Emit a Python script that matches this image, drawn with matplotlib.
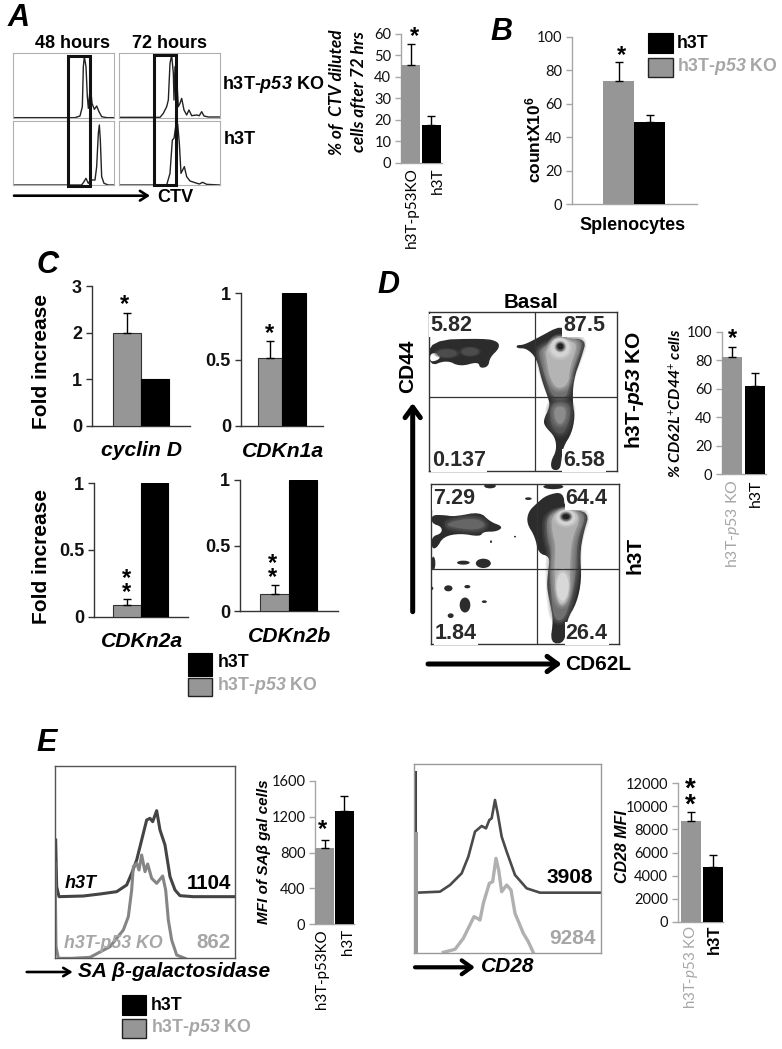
import matplotlib
matplotlib.use('Agg')
import matplotlib.pyplot as plt
from matplotlib.patches import Polygon, Ellipse, Rectangle

plt.rcParams['font.family'] = ['Liberation Sans', 'DejaVu Sans']
plt.rcParams['mathtext.fontset'] = 'custom'
plt.rcParams['mathtext.bf'] = 'Liberation Sans:bold'
plt.rcParams['mathtext.bfit'] = 'Liberation Sans:italic:bold'
plt.rcParams['mathtext.it'] = 'Lato:italic'
plt.rcParams['mathtext.rm'] = 'Lato'

GRAY = '#969696'
LGRAY = '#a6a6a6'

# ---------- bar data ----------
a_vals, a_err = [45.5, 17.5], [55.5, 22]
b_vals, b_err = [73.5, 49], [85, 53]
c1_vals, c1_err = [2.0, 1.0], [2.42, 1.0]
c2_vals, c2_err = [0.51, 1.0], [0.64, 1.0]
c3_vals, c3_err = [0.085, 1.0], [0.13, 1.0]
c4_vals, c4_err = [0.13, 1.0], [0.20, 1.0]
d_vals, d_err = [82, 62], [89.5, 71]
e1_vals, e1_err = [850, 1265], [935, 1430]
e2_vals, e2_err = [8700, 4700], [9550, 5750]

# ---------- CTV histograms (channel, count) ----------
ctv48_ko = [(38,353),(225,353),(240,348),(247,320),(250,200),(253,170),(258,200),(262,290),(265,325),(270,270),(272,265),(276,310),(283,328),(290,318),(297,335),(305,350),(320,353),(342,353)]
ctv72_ko = [(356,352),(480,352),(490,340),(500,320),(505,300),(510,190),(515,165),(520,220),(522,300),(525,200),(530,230),(535,320),(540,310),(545,295),(552,330),(560,345),(567,330),(575,347),(590,345),(598,347),(605,335),(612,348),(625,351),(660,351)]
ctv48_wt = [(38,555),(245,555),(252,545),(258,535),(265,550),(272,540),(285,540),(290,500),(295,400),(298,375),(301,420),(305,530),(312,550),(325,555),(342,555)]
ctv72_wt = [(356,555),(500,555),(510,520),(517,420),(522,415),(527,380),(533,372),(538,430),(543,520),(553,500),(560,530),(570,543),(585,548),(598,552),(608,547),(620,553),(660,555)]

# ---------- SA beta-gal and CD28 histograms ----------
sa_wt = [(167,360),(170,500),(177,530),(250,528),(300,522),(350,515),(380,495),(395,460),(410,420),(425,360),(440,300),(450,295),(458,305),(470,272),(480,330),(495,375),(510,470),(525,510),(540,527),(580,530),(705,530)]
sa_ko = [(165,430),(168,680),(175,715),(215,715),(270,712),(330,680),(370,630),(385,590),(395,510),(400,440),(410,430),(417,450),(425,405),(435,455),(443,432),(455,475),(470,490),(488,468),(497,510),(505,600),(515,660),(530,705),(555,715)]
cd28_wt = [(50,518),(120,515),(150,495),(185,460),(205,410),(225,335),(245,318),(258,325),(268,300),(275,295),(285,240),(293,280),(305,350),(320,395),(345,465),(380,505),(420,518),(602,518)]
cd28_ko = [(130,697),(165,688),(190,655),(222,590),(232,595),(240,600),(250,550),(268,490),(278,485),(288,415),(296,450),(305,515),(320,495),(333,510),(345,580),(370,640),(385,665),(400,698)]

# ---------- CD44/CD62L density contours ----------
ko_left = [(147,210),(315,205),(355,215),(358,235),(330,262),(325,290),(300,295),(295,275),(240,290),(200,270),(147,290)]
ko_hole = [(150,252),(170,248),(182,262),(170,272),(150,275)]
ko_main = [(410,225),(430,225),(465,208),(550,162),(550,207),(620,207),(605,260),(580,330),(578,400),(585,440),(575,490),(550,530),(545,565),(540,600),(515,600),(512,575),(530,540),(525,500),(495,470),(490,450),(510,410),(505,385),(485,330),(470,265),(440,235),(410,235)]
ko_mid = [(475,235),(550,208),(612,208),(592,265),(570,320),(562,385),(518,385),(495,320),(480,270)]
ko_light = [(495,235),(560,212),(595,220),(570,290),(565,345),(530,358),(508,320),(500,270)]
ko_lower = [(512,395),(572,395),(570,450),(552,490),(530,490),(510,460)]
ko_lower2 = [(522,410),(558,410),(555,450),(540,465),(525,450)]
wt_main = [(470,700),(500,675),(550,665),(555,720),(630,725),(610,790),(600,850),(605,930),(590,1000),(560,1050),(555,1120),(510,1120),(520,1050),(510,1000),(500,950),(505,900),(510,860),(475,850),(465,800),(440,760),(445,725)]
wt_left = [(155,735),(190,735),(225,740),(300,725),(330,755),(370,770),(350,785),(310,785),(300,800),(240,790),(190,800),(170,835),(155,835),(155,800),(185,790),(185,770),(155,760)]
wt_left2 = [(195,765),(230,750),(290,745),(320,765),(290,780),(235,775)]
wt_mid = [(500,735),(560,720),(622,728),(595,800),(590,850),(590,900),(570,1000),(550,1050),(525,1050),(515,1000),(510,900),(515,850),(500,800)]
wt_light = [(515,735),(560,722),(605,735),(575,810),(570,880),(570,950),(550,1010),(530,990),(522,900),(528,830),(515,780)]
wt_spots = [(330,648,35,14),(520,650,60,15),(445,686,20,8),(160,880,12,40),(250,878,38,12),(310,880,45,28),(205,955,25,18),(262,950,18,10),(255,1005,32,45),(313,995,15,8),(212,1037,18,14),(155,955,10,10),(405,800,6,5),(333,815,6,8)]

fig = plt.figure(figsize=(7.82, 10.49), dpi=100)
W, H = 782.0, 1049.0


def rect(x0, y0, x1, y1):
    return [x0 / W, 1 - y1 / H, (x1 - x0) / W, (y1 - y0) / H]


def bars(ax_l, ax_r, top, bot, ymax, ticks, c0, c1, bw, vals, errs, labels=None,
         spine='#a6a6a6', font='Lato', fs=10, weight='normal', edge=None):
    ax = fig.add_axes(rect(ax_l, top, ax_r, bot))
    step = c1 - c0
    ax.set_xlim((ax_l - c0) / step, (ax_r - c0) / step)
    ax.set_ylim(0, ymax)
    ax.patch.set_alpha(0)
    w = bw / step
    ax.bar([0, 1], vals, width=w, color=[GRAY, 'black'],
           edgecolor=[edge or GRAY, 'black'], linewidth=0.8 if edge else 0, zorder=3)
    for i in range(2):
        if errs[i] > vals[i]:
            ax.errorbar(i, vals[i], yerr=[[0], [errs[i] - vals[i]]], ecolor='black',
                        elinewidth=1.0, capsize=3, capthick=1.0, zorder=4)
    for s in ('top', 'right'):
        ax.spines[s].set_visible(False)
    for s in ('left', 'bottom'):
        ax.spines[s].set_color(spine)
        ax.spines[s].set_linewidth(1.0)
    ax.set_yticks(ticks)
    ax.set_yticklabels([str(t) for t in ticks], family=font, fontsize=fs, weight=weight,
                       color='#111111')
    ax.tick_params(axis='y', length=4, width=1, color=spine, pad=3)
    ax.set_xticks([])
    return ax


def curve_axes(x0, y0, x1, y1, ox, oy, spine='#9a9a9a', lw=1.0):
    ax = fig.add_axes(rect(x0, y0, x1, y1))
    ax.set_xlim((x0 - ox) * 3, (x1 - ox) * 3)
    ax.set_ylim((y1 - oy) * 3, (y0 - oy) * 3)
    ax.set_xticks([])
    ax.set_yticks([])
    for s in ax.spines.values():
        s.set_color(spine)
        s.set_linewidth(lw)
    return ax


def plot_curve(ax, pts, color, lw):
    ax.plot([p[0] for p in pts], [p[1] for p in pts], color=color, lw=lw,
            solid_joinstyle='round', clip_on=True)


def chaikin(pts, n=2):
    for _ in range(n):
        out = []
        for i, p in enumerate(pts):
            q = pts[(i + 1) % len(pts)]
            out.append((0.75 * p[0] + 0.25 * q[0], 0.75 * p[1] + 0.25 * q[1]))
            out.append((0.25 * p[0] + 0.75 * q[0], 0.25 * p[1] + 0.75 * q[1]))
        pts = out
    return pts


def soft(ax, poly, col, blur=True):
    pts = chaikin(poly)
    if blur:
        for lw, al in [(7, 0.18), (4.5, 0.25), (2.2, 0.35)]:
            ax.add_patch(Polygon(pts, closed=True, facecolor='none', edgecolor=col,
                                 lw=lw, alpha=al, joinstyle='round'))
    ax.add_patch(Polygon(pts, closed=True, facecolor=col, edgecolor='none'))


def soft_ellipse(ax, c, w, h, col):
    for f, al in [(1.35, 0.25), (1.18, 0.4)]:
        ax.add_patch(Ellipse(c, w * f, h * f, facecolor=col, edgecolor='none', alpha=al))
    ax.add_patch(Ellipse(c, w, h, facecolor=col, edgecolor='none'))


# ---------- Panel A flow ----------
for box, pts in [((12.7, 53.3, 114, 118), ctv48_ko), ((118.7, 53.3, 220, 118), ctv72_ko),
                 ((12.7, 121.3, 114, 185.3), ctv48_wt), ((118.7, 121.3, 220, 185.3), ctv72_wt)]:
    a = curve_axes(*box, 0, 0, spine='#b0b0b0', lw=0.8)
    plot_curve(a, pts, '#222222', 1.0)

# ---------- bar panels ----------
bars(401, 442, 34, 162.7, 60, [0, 10, 20, 30, 40, 50, 60], 410.5, 431, 19, a_vals, a_err, fs=10.5)
bars(571.7, 696.7, 36.7, 204, 100, [0, 20, 40, 60, 80, 100], 618.5, 649.5, 31, b_vals, b_err, fs=10.5)
c_ticks_h = [0, 0.5, 1]
bars(91.7, 190, 286, 426, 3, [0, 1, 2, 3], 127, 155, 28, c1_vals, c1_err, spine='#333333',
     font='Liberation Sans', fs=13, weight='bold', edge='#333333')
bars(240.7, 323, 293, 426, 1, c_ticks_h, 270, 294, 24, c2_vals, c2_err, spine='#333333',
     font='Liberation Sans', fs=13, weight='bold', edge='#333333')
bars(94, 188, 483, 616.7, 1, c_ticks_h, 127, 154.5, 27.5, c3_vals, c3_err, spine='#333333',
     font='Liberation Sans', fs=13, weight='bold', edge='#333333')
bars(240, 338, 480, 611, 1, c_ticks_h, 274.7, 303, 28.5, c4_vals, c4_err, spine='#333333',
     font='Liberation Sans', fs=13, weight='bold', edge='#333333')
bars(721.7, 766, 331.7, 474.3, 100, [0, 20, 40, 60, 80, 100], 732, 755, 20.5, d_vals, d_err, fs=10.5)
bars(315, 354, 780.7, 924.3, 1600, [0, 400, 800, 1200, 1600], 324.5, 344.3, 18.5, e1_vals, e1_err, fs=10.5)
bars(678, 723, 783.3, 921.7, 12000, [0, 2000, 4000, 6000, 8000, 10000, 12000], 690.7, 712.5, 20, e2_vals, e2_err, fs=10.5)

# ---------- Panel D contours ----------
D1 = curve_axes(429, 311.7, 617.3, 471, 380, 270, spine='#333333', lw=1.0)
D2 = curve_axes(431, 484, 619, 644, 380, 270, spine='#333333', lw=1.0)
DK = '#2c2c2c'
soft(D1, ko_left, DK, blur=False)
soft(D1, ko_hole, 'white', blur=False)
soft(D1, ko_main, DK, blur=False)
soft(D1, ko_mid, '#707070')
soft(D1, ko_light, '#b4b4b4')
soft(D1, ko_lower, '#555555')
soft(D1, ko_lower2, '#8c8c8c')
soft_ellipse(D1, (540, 232), 58, 58, '#d4d4d4')
soft_ellipse(D1, (541, 230), 26, 26, '#606060')
D1.add_patch(Ellipse((541, 229), 18, 18, facecolor='#222222', edgecolor='none'))
soft_ellipse(D1, (200, 250), 60, 24, '#4c4c4c')
soft_ellipse(D1, (270, 245), 50, 24, '#4c4c4c')
D1.axvline(464, color='#333333', lw=0.9, zorder=5)
D1.axhline(380, color='#333333', lw=0.9, zorder=5)
soft(D2, wt_main, DK, blur=False)
soft(D2, wt_left, DK, blur=False)
soft(D2, wt_left2, '#666666')
soft(D2, wt_mid, '#707070')
soft(D2, wt_light, '#b0b0b0')
for cx, cy, ew, eh in wt_spots:
    D2.add_patch(Ellipse((cx, cy), ew, eh, facecolor=DK, edgecolor='none'))
soft_ellipse(D2, (548, 950), 36, 84, '#d8d8d8')
soft_ellipse(D2, (558, 742), 56, 46, '#d4d4d4')
soft_ellipse(D2, (558, 740), 30, 24, '#606060')
D2.add_patch(Ellipse((558, 740), 22, 16, facecolor='#222222', edgecolor='none'))
D2.axvline(470, color='#333333', lw=0.9, zorder=5)
D2.axhline(898, color='#333333', lw=0.9, zorder=5)

# ---------- Panel E histograms ----------
E1 = curve_axes(55, 765.7, 235, 958.3, 0, 720, spine='#555555', lw=1.0)
plot_curve(E1, sa_wt, '#444444', 2.2)
plot_curve(E1, sa_ko, '#858585', 2.2)
E2 = curve_axes(414, 764.3, 600.7, 952.7, 400, 720, spine='#999999', lw=1.0)
plot_curve(E2, cd28_wt, '#4a4a4a', 1.9)
plot_curve(E2, cd28_ko, '#b0b0b0', 2.4)
E2.plot([45, 45], [155, 340], color='#444444', lw=2.2)
E2.plot([48, 48], [340, 698], color='#999999', lw=2.2)

# ---------- overlay ----------
ov = fig.add_axes([0, 0, 1, 1], zorder=20)
ov.set_xlim(0, W)
ov.set_ylim(H, 0)
ov.axis('off')
ov.patch.set_alpha(0)

KO_B = 'h3T-$\\mathbfit{p53}$ KO'
KO_R = 'h3T-$\\mathit{p53}$ KO'
SANS = ['Liberation Sans', 'DejaVu Sans']
LATO = ['Lato', 'DejaVu Sans']


def t(x, y, s, size=13, color='black', ha='center', va='center', weight='bold',
      style='normal', rot=0, family=SANS, **kw):
    return ov.text(x, y, s, fontsize=size, color=color, ha=ha, va=va, fontweight=weight,
                   fontstyle=style, rotation=rot, family=family, rotation_mode='anchor', **kw)


def arrow(x0, y0, x1, y1, lw, hl, hw):
    ov.annotate('', xy=(x1, y1), xytext=(x0, y0),
                arrowprops=dict(arrowstyle=f'->,head_length={hl},head_width={hw}', lw=lw,
                                color='black', shrinkA=0, shrinkB=0))


def star(x, y, size=17, s='*'):
    ov.text(x, y, s, fontsize=size, fontweight='bold', ha='center', va='center', family=SANS,
            linespacing=0.5)


# A
t(19, 18, 'A', size=22, style='italic')
t(72.7, 44, '48 hours')
t(170, 44, '72 hours')
t(221.7, 84.7, KO_B, ha='left')
t(224, 139, 'h3T', ha='left')
t(175, 197, 'CTV')
ov.add_patch(Rectangle((68.3, 56), 22, 130, fill=False, ec='#111111', lw=2.2, zorder=6))
ov.add_patch(Rectangle((154.3, 55), 21.4, 129.7, fill=False, ec='#111111', lw=2.2, zorder=6))
arrow(14, 195.7, 150, 195.7, 1.9, 0.55, 0.35)
t(337, 92, '% of  CTV diluted', size=12.4, style='italic', rot=90, family=LATO)
t(359, 92, 'cells after 72 hrs', size=12.4, style='italic', rot=90, family=LATO)
t(411.7, 167, 'h3T-p53KO', size=11, weight='normal', rot=90, ha='right', family=LATO)
t(438, 167, 'h3T', size=11, weight='normal', rot=90, ha='right', family=LATO)
star(414, 37)

# B
t(501.7, 32, 'B', size=22, style='italic')
t(533, 140, 'countX10$^{\\mathbf{6}}$', size=12.5, rot=90)
t(633, 225.7, 'Splenocytes')
star(621.7, 56)
ov.add_patch(Rectangle((648, 33.3), 24.7, 20, fc='black', ec='black', lw=0.8))
ov.add_patch(Rectangle((648, 57.7), 24.7, 19.6, fc=GRAY, ec='#222222', lw=1.0))
t(677, 43, 'h3T', ha='left', size=12.8)
t(677, 66.7, KO_B, ha='left', size=12.8, color=LGRAY)

# C
t(48, 265, 'C', size=22, style='italic')
t(41.7, 361.7, 'Fold increase', size=15, rot=90)
t(41.7, 556.7, 'Fold increase', size=15, rot=90)
t(141.7, 450.7, 'cyclin D', size=15.2, style='italic')
t(283, 451.7, 'CDKn1a', size=15.2, style='italic')
t(141.7, 641.7, 'CDKn2a', size=15.2, style='italic')
t(290, 636.7, 'CDKn2b', size=15.2, style='italic')
star(125, 305)
star(269.3, 334)
star(127, 585.5, s='*\n*')
star(272.3, 570.5, s='*\n*')
ov.add_patch(Rectangle((188, 653), 24, 23, fc='black', ec='black', lw=0.8))
ov.add_patch(Rectangle((188, 677.5), 24, 18.5, fc=GRAY, ec='#222222', lw=1.0))
t(217.3, 662.7, 'h3T', ha='left', size=12.8)
t(217.3, 685, KO_B, ha='left', size=12.8, color=LGRAY)

# D
t(388, 285, 'D', size=22, style='italic')
t(531, 302, 'Basal', size=14.8)
t(408, 366.7, 'CD44', size=15, rot=90)
t(635, 390, KO_B, size=15, rot=90)
t(635, 555, 'h3T', size=15, rot=90)
t(598, 665, 'CD62L', size=15)
D_NUM = [(213, 167, '5.82'), (612, 167, '87.5'), (237, 572, '0.137'), (612, 572, '6.58'),
         (222, 687, '7.29'), (620, 687, '64.4'), (228, 1090, '1.84'), (620, 1090, '26.4')]
for zx, zy, s in D_NUM:
    t(380 + zx / 3, 270 + zy / 3, s, size=15.5, color='#2a2a2a',
      bbox=dict(fc='white', ec='none', pad=0.6))
arrow(412.7, 611.7, 412.7, 403, 3.6, 0.75, 0.55)
arrow(428, 664, 561.7, 664, 3.6, 0.75, 0.55)
t(676, 403, '% CD62L$^{+}$CD44$^{+}$ cells', size=11.4, style='italic', rot=90, family=LATO)
t(733.3, 479.3, KO_R, size=11.4, weight='normal', rot=90, ha='right', color=LGRAY, family=LATO)
t(755.7, 479.3, 'h3T', size=11.4, weight='normal', rot=90, ha='right', family=LATO)
star(732, 339)

# E
t(47, 742.7, 'E', size=22, style='italic')
t(81, 883, 'h3T', size=13, style='italic')
t(231, 883.3, '1104', size=14.8, ha='right')
t(113, 943, 'h3T-p53 KO', size=12.8, style='italic', color=LGRAY)
t(231, 943, '862', size=14.8, ha='right', color=LGRAY)
t(77.7, 971.7, 'SA β-galactosidase', size=15, style='italic', ha='left')
arrow(26.7, 972, 72.7, 972, 1.9, 0.5, 0.3)
t(264, 851.7, 'MFI of SAβ gal cells', size=11, style='italic', rot=90)
star(322, 830)
t(322, 929, 'h3T-p53KO', size=10.8, weight='normal', rot=90, ha='right', family=LATO)
t(347.7, 929, 'h3T', size=10.8, weight='normal', rot=90, ha='right', family=LATO)
ov.add_patch(Rectangle((121.7, 995), 24, 19.7, fc='black', ec='black', lw=0.8))
ov.add_patch(Rectangle((121.7, 1019), 24, 19, fc=GRAY, ec='#222222', lw=1.0))
t(150.7, 1005.7, 'h3T', ha='left', size=12.8)
t(150.7, 1027, KO_B, ha='left', size=12.8, color=LGRAY)

t(593, 877.7, '3908', size=15, ha='right')
t(596, 938.3, '9284', size=15, ha='right', color=LGRAY)
t(480.7, 966.7, 'CD28', size=15, style='italic', ha='left')
arrow(415, 967.3, 475, 967.3, 3, 0.7, 0.5)
t(622.7, 846.7, 'CD28 MFI', size=11.5, style='italic', rot=90)
star(690.7, 798, size=20, s='*\n*')
t(690.7, 925, KO_R, size=10.8, weight='normal', rot=90, ha='right', color=LGRAY, family=LATO)
t(714, 925, 'h3T', size=12, rot=90, ha='right')

fig.savefig('out.png', dpi=100)
